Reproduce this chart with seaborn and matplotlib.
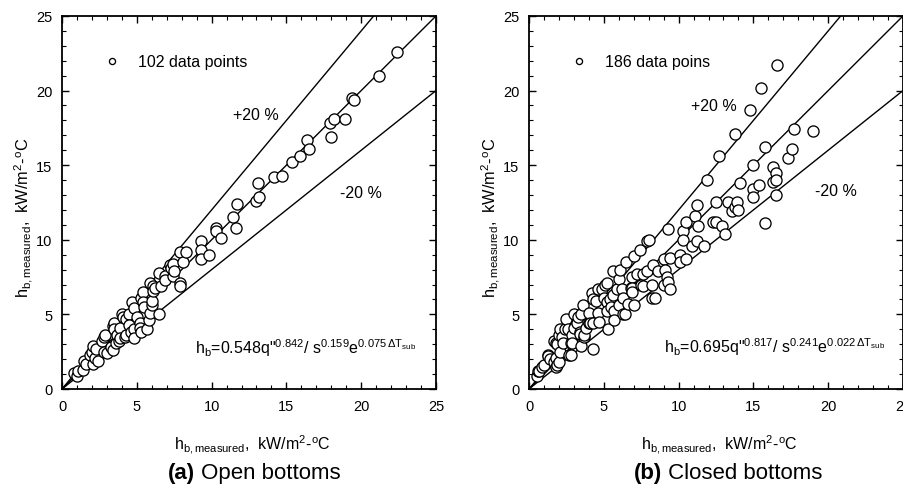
import matplotlib
matplotlib.use("Agg")
import matplotlib.pyplot as plt
from matplotlib.ticker import MultipleLocator
import numpy as np
import pandas as pd
import seaborn as sns

# Open-bottom test section: (predicted-axis value, measured value) pairs
open_x = [0.8, 1.0, 1.1, 1.4, 1.5, 1.6, 1.9, 2.0, 2.1, 2.1, 2.2, 2.3, 2.4, 2.7, 2.8, 2.8, 2.9, 3.0,
          3.3, 3.4, 3.4, 3.5, 3.5, 3.6, 3.7, 3.8, 3.9, 3.9, 4.0, 4.1, 4.2, 4.3, 4.3, 4.5, 4.5, 4.6,
          4.7, 4.8, 4.8, 4.8, 5.0, 5.2, 5.2, 5.3, 5.3, 5.4, 5.4, 5.5, 5.7, 5.8, 5.9, 5.9, 6.0, 6.0,
          6.1, 6.1, 6.2, 6.5, 6.5, 6.6, 6.9, 6.9, 7.2, 7.3, 7.4, 7.4, 7.5, 7.9, 7.9, 7.9, 8.1, 8.3,
          9.3, 9.3, 9.3, 9.8, 10.3, 10.3, 10.6, 11.4, 11.6, 11.7, 13.0, 13.1, 13.2, 14.2, 14.7,
          15.4, 15.9, 16.4, 16.5, 17.9, 18.0, 18.2, 18.9, 19.4, 19.5, 21.2, 22.4]
open_y = [1.1, 0.9, 1.2, 1.3, 1.9, 1.7, 2.3, 2.5, 1.7, 2.9, 2.1, 2.7, 1.9, 3.2, 3.5, 2.5, 3.6, 2.4,
          2.8, 2.6, 4.2, 4.4, 4.0, 3.1, 3.6, 3.2, 4.1, 3.4, 5.0, 4.8, 3.5, 4.7, 3.6, 5.0, 4.3, 3.8,
          5.8, 5.4, 4.0, 3.4, 4.8, 4.4, 4.1, 6.1, 3.8, 6.5, 5.8, 5.5, 4.0, 4.6, 5.1, 7.1, 5.6, 5.9,
          6.9, 6.6, 6.8, 5.0, 7.8, 6.9, 7.6, 7.3, 8.3, 8.1, 8.4, 7.6, 7.9, 7.1, 6.9, 9.2, 8.5, 9.2,
          9.9, 9.3, 8.7, 9.0, 10.8, 10.6, 10.1, 11.5, 10.8, 12.4, 12.6, 13.8, 12.9, 14.2, 14.3,
          15.2, 15.6, 16.7, 16.1, 17.8, 16.9, 18.1, 18.1, 19.5, 19.4, 21.0, 22.6]

# Closed-bottom test section
closed_x = [0.5, 0.6, 0.7, 0.9, 1.0, 1.3, 1.3, 1.4, 1.7, 1.7, 1.8, 1.8, 1.8, 1.9, 1.9, 2.0, 2.0,
            2.1, 2.1, 2.2, 2.3, 2.4, 2.5, 2.6, 2.7, 2.8, 2.8, 2.9, 2.9, 3.0, 3.0, 3.2, 3.3, 3.4,
            3.4, 3.5, 3.5, 3.6, 3.7, 3.7, 3.8, 4.0, 4.0, 4.1, 4.2, 4.3, 4.3, 4.3, 4.5, 4.6, 4.6,
            4.7, 4.9, 5.0, 5.1, 5.2, 5.2, 5.2, 5.3, 5.4, 5.5, 5.6, 5.6, 5.7, 5.7, 5.9, 6.0, 6.0,
            6.1, 6.2, 6.3, 6.3, 6.4, 6.5, 6.6, 6.8, 6.9, 6.9, 6.9, 7.0, 7.0, 7.2, 7.4, 7.5, 7.6,
            7.6, 7.9, 7.9, 8.0, 8.2, 8.2, 8.3, 8.4, 8.6, 9.0, 9.0, 9.1, 9.2, 9.3, 9.3, 9.4, 9.4,
            10.1, 10.1, 10.3, 10.3, 10.5, 10.5, 10.9, 11.1, 11.2, 11.2, 11.3, 11.7, 11.9, 12.3,
            12.5, 12.5, 12.7, 12.9, 13.1, 13.3, 13.6, 13.8, 13.8, 13.9, 14.0, 14.1, 14.8, 15.0,
            15.0, 15.0, 15.4, 15.5, 15.8, 15.8, 16.3, 16.3, 16.5, 16.5, 16.5, 16.6, 17.3, 17.6,
            17.7, 19.0]
closed_y = [0.9, 1.2, 1.2, 1.5, 1.6, 2.3, 2.2, 2.0, 3.2, 1.8, 2.1, 1.5, 3.1, 3.0, 1.6, 1.8, 3.6,
            2.5, 4.0, 3.5, 3.1, 4.0, 4.7, 4.0, 2.3, 3.1, 2.3, 3.6, 3.1, 5.0, 4.1, 4.4, 4.8, 3.8,
            3.7, 5.0, 2.9, 5.6, 3.5, 3.6, 4.1, 4.4, 5.1, 4.4, 6.4, 6.0, 4.4, 2.7, 5.9, 6.7, 5.1,
            4.5, 6.7, 6.1, 7.0, 7.1, 5.8, 5.2, 4.0, 6.0, 5.5, 7.9, 6.3, 5.2, 4.6, 6.7, 7.4, 5.6,
            8.0, 6.7, 6.1, 5.0, 5.0, 8.5, 5.7, 6.8, 7.5, 6.8, 6.5, 8.9, 5.6, 7.7, 9.3, 7.0, 6.9,
            7.7, 9.9, 7.9, 10.0, 7.0, 6.1, 8.3, 6.1, 7.9, 8.7, 7.0, 8.0, 7.5, 7.2, 10.7, 8.8, 6.7,
            9.0, 8.5, 10.6, 10.0, 11.2, 8.7, 9.6, 11.6, 12.3, 9.9, 10.9, 9.6, 14.0, 11.2,
            11.2, 12.5, 15.6, 10.9, 10.4, 12.5, 11.9, 17.1, 12.2, 12.5, 12.0, 13.8, 18.7, 15.0,
            13.4, 12.9, 13.7, 20.2, 16.2, 11.1, 14.9, 13.9, 14.5, 14.0, 13.0, 21.7, 15.5, 16.1,
            17.4, 17.3]

# Reference lines: perfect agreement and the +/-20 % band
band_slopes = [1.2, 1.0, 0.8]
band_labels = ["+20 %", "-20 %"]

panels = [
    dict(x=open_x, y=open_y, legend="102 data points",
         fit=r'h$_{\mathregular{b}}$=0.548q"$^{\mathregular{0.842}}$/ s$^{\mathregular{0.159}}$e$^{\mathregular{0.075\,\Delta T_{sub}}}$',
         tag="(a)", caption=" Open bottoms",
         plus_pos=(11.4, 18.4), minus_pos=(18.6, 13.2), fit_pos=(8.9, 2.8)),
    dict(x=closed_x, y=closed_y, legend="186 data poins",
         fit=r'h$_{\mathregular{b}}$=0.695q"$^{\mathregular{0.817}}$/ s$^{\mathregular{0.241}}$e$^{\mathregular{0.022\,\Delta T_{sub}}}$',
         tag="(b)", caption=" Closed bottoms",
         plus_pos=(10.8, 19.0), minus_pos=(19.1, 13.3), fit_pos=(9.0, 2.9)),
]

sns.set_theme(style="ticks")
plt.rcParams["font.family"] = ["Liberation Sans", "DejaVu Sans"]
plt.rcParams["mathtext.fontset"] = "custom"
plt.rcParams["mathtext.rm"] = "Liberation Sans"
plt.rcParams["mathtext.it"] = "Liberation Sans"
plt.rcParams["mathtext.default"] = "regular"
for key in ["text.color", "axes.labelcolor", "xtick.color", "ytick.color",
            "xtick.labelcolor", "ytick.labelcolor", "axes.edgecolor"]:
    plt.rcParams[key] = "black"

fig = plt.figure(figsize=(9.04, 4.89), dpi=100)
axes_rects = [[0.0686, 0.2025, 0.4137, 0.7628], [0.5852, 0.2025, 0.4137, 0.7628]]

axis_label = r'h$_{\mathregular{b,measured}}$,  kW/m$^{\mathregular{2}}$-$^{\mathregular{o}}$C'
grid = np.array([0.0, 25.0])

for rect, p in zip(axes_rects, panels):
    ax = fig.add_axes(rect)
    df = pd.DataFrame({"x": p["x"], "y": p["y"]})
    for k in band_slopes:
        ax.plot(grid, k * grid, color="black", lw=1.0, zorder=1)
    sns.scatterplot(data=df, x="x", y="y", ax=ax, s=64, marker="o",
                    facecolor="white", edgecolor="black", linewidth=0.95,
                    label=p["legend"], zorder=3)
    ax.legend(loc="upper left", bbox_to_anchor=(0.074, 0.916), frameon=False,
              fontsize=11.5, markerscale=0.55, handletextpad=0.6, borderaxespad=0,
              labelcolor="black")
    ax.text(*p["plus_pos"], band_labels[0], fontsize=11.5, va="center", ha="left")
    ax.text(*p["minus_pos"], band_labels[1], fontsize=11.5, va="center", ha="left")
    ax.text(*p["fit_pos"], p["fit"], fontsize=11.5, va="center", ha="left")

    ax.set_xlim(0, 25)
    ax.set_ylim(0, 25)
    ax.xaxis.set_major_locator(MultipleLocator(5))
    ax.yaxis.set_major_locator(MultipleLocator(5))
    ax.xaxis.set_minor_locator(MultipleLocator(1))
    ax.yaxis.set_minor_locator(MultipleLocator(1))
    ax.tick_params(which="both", direction="in", top=True, right=True, color="black")
    ax.tick_params(which="major", length=5, width=1.0, labelsize=10.5, pad=7)
    ax.tick_params(which="minor", length=3, width=0.8)
    for s in ax.spines.values():
        s.set_linewidth(1.3)
        s.set_color("black")
    ax.set_xlabel(axis_label, fontsize=11.5)
    ax.set_ylabel(axis_label, fontsize=11.8)
    ax.xaxis.set_label_coords(0.51, -0.115)
    ax.yaxis.set_label_coords(-0.072, 0.462)

    join = rect[0] + rect[2] / 2 - 0.0595
    fig.text(join, 0.031, p["tag"], fontsize=16, fontweight="bold", ha="right", va="center")
    fig.text(join, 0.031, p["caption"], fontsize=16, ha="left", va="center")

fig.savefig("out.png", dpi=100)
